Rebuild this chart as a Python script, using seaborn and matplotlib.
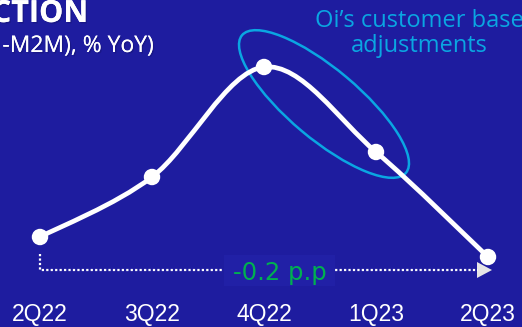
import numpy as np
import pandas as pd
import matplotlib
matplotlib.use("Agg")
import matplotlib.pyplot as plt
import matplotlib.patheffects as pe
from matplotlib.path import Path
from matplotlib.patches import PathPatch, Ellipse, Polygon, Rectangle
import seaborn as sns

# Quarterly YoY growth (%), ex-M2M
quarters = ["2Q22", "3Q22", "4Q22", "1Q23", "2Q23"]
growth = [3.0, 3.6, 4.7, 3.85, 2.8]
change_label = "-0.2 p.p"
note_lines = ["Oi’s customer base", "adjustments"]
title_tail = "CTION"
subtitle_tail = "-M2M), % YoY)"

BG = "#1E1C9F"
CYAN = "#0AA6E2"
GREEN = "#00B050"

sns.set_theme(style="white")
plt.rcParams["font.family"] = ["Liberation Sans", "DejaVu Sans"]

W, H, DPI = 522, 327, 100
fig = plt.figure(figsize=(W / DPI, H / DPI), dpi=DPI, facecolor=BG)

# Overlay in pixel coordinates for titles and annotations
ov = fig.add_axes([0, 0, 1, 1])
ov.set_xlim(0, W)
ov.set_ylim(H, 0)
ov.axis("off")
ov.patch.set_alpha(0)

# Main chart axes
ax = fig.add_axes([0, 30 / H, 1, 297 / H])
ax.patch.set_alpha(0)

df = pd.DataFrame({"quarter": quarters, "growth": growth})
pos = np.arange(len(quarters), dtype=float)
vals = np.asarray(growth, dtype=float)

# Smoothed line (Catmull-Rom as cubic Bezier segments)
pts = np.column_stack([pos, vals])
ext = np.vstack([pts[0], pts, pts[-1]])
verts = [tuple(pts[0])]
codes = [Path.MOVETO]
for i in range(len(pts) - 1):
    p0, p1, p2, p3 = ext[i], ext[i + 1], ext[i + 2], ext[i + 3]
    c1 = p1 + (p2 - p0) / 6.0
    c2 = p2 - (p3 - p1) / 6.0
    verts += [tuple(c1), tuple(c2), tuple(p2)]
    codes += [Path.CURVE4] * 3
ax.add_patch(PathPatch(Path(verts, codes), facecolor="none", edgecolor="white",
                       lw=3.4, capstyle="round", joinstyle="round", zorder=2))

sns.scatterplot(data=df, x="quarter", y="growth", ax=ax, color="white",
                s=140, edgecolor="none", zorder=3, legend=False)

ax.set_xlim(-40 / 112, 482 / 112)
ax.set_ylim(2.4, 5.37)
ax.set_xticks(pos)
ax.set_xticklabels(quarters)
ax.set_yticks([])
ax.set_xlabel("")
ax.set_ylabel("")
for s in ax.spines.values():
    s.set_visible(False)
ax.tick_params(axis="x", length=0, pad=4.5, labelsize=16.5, labelcolor="white")

shadow = [pe.withSimplePatchShadow(offset=(1, -1), shadow_rgbFace="black",
                                   alpha=0.15), pe.Normal()]

# Titles (left-cropped)
ov.text(88, 22, title_tail, color="white", fontsize=22, fontweight="bold",
        family="Open Sans", ha="right", va="baseline", path_effects=shadow)
ov.text(154, 52, subtitle_tail, color="white", fontsize=16.5,
        family="Open Sans", ha="right", va="baseline", path_effects=shadow)

# Highlight ellipse and note
ov.add_patch(Ellipse((324, 104), width=214, height=70, angle=40,
                     facecolor="none", edgecolor=CYAN, lw=1.8))
for k, line in enumerate(note_lines):
    ov.text(419, 27 + 25 * k, line, color=CYAN, fontsize=17,
            family="Open Sans", ha="center", va="baseline")

# Dotted change arrow from first to last quarter
ov.plot([40, 40, 478], [254, 270, 270], color="white", lw=1.6,
        linestyle=(0, (1, 1.0)), solid_capstyle="butt")
ov.add_patch(Polygon([(477, 262), (477, 278), (492, 270)], closed=True,
                     facecolor="#E6E6E6", edgecolor="none"))
ov.add_patch(Rectangle((224, 255), 111, 31, facecolor="#2120A6",
                       edgecolor="none", zorder=3))
ov.text(280, 280, change_label, color=GREEN, fontsize=17.5, family="DejaVu Sans",
        ha="center", va="baseline", zorder=4)

fig.savefig("out.png", dpi=DPI, facecolor=BG)
